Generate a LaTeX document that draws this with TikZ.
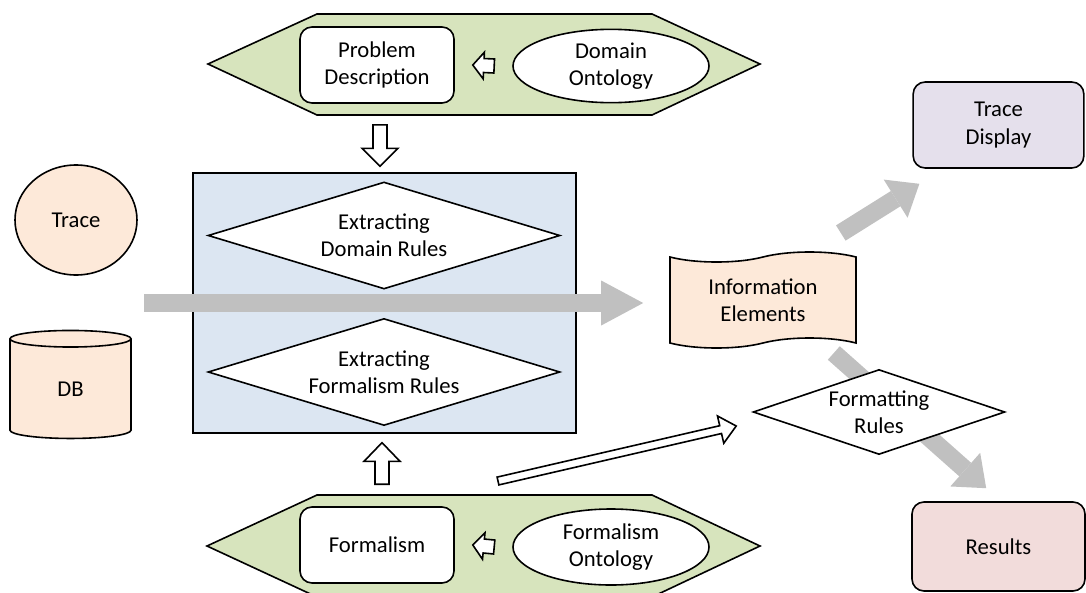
\documentclass[tikz,border=0pt]{standalone}
\usepackage{fontspec}
\setmainfont{Carlito}
\usetikzlibrary{shapes.geometric, shapes.symbols, arrows.meta, calc}

\definecolor{hexgreen}{HTML}{D7E4BD}
\definecolor{boxblue}{HTML}{DCE6F2}
\definecolor{peach}{HTML}{FDE9D9}
\definecolor{lilac}{HTML}{E5E0EC}
\definecolor{rose}{HTML}{F2DCDB}
\definecolor{flowgray}{HTML}{C0C0C0}

\tikzset{
  lbl/.style={font=\fontsize{17}{20.5}\selectfont, align=center, inner sep=0pt},
  outline/.style={draw=black, line width=1.2pt},
  roundbox/.style={lbl, outline, rounded corners=9pt, minimum width=128pt, minimum height=64.5pt},
  rulediamond/.style={lbl, outline, diamond, aspect=3.3, fill=white, minimum width=264pt, minimum height=80.25pt},
  flow/.style={draw=flowgray, line width=13.5pt, -{Triangle[length=31.5pt, width=33.75pt, line width=0pt]}},
  sideflow/.style={flow, -{Triangle[length=21pt, width=33.75pt, line width=0pt]}},
  hollow/.style n args={3}{outline, fill=white, line join=miter, to path={
      ($(\tikztostart)!#1!90:(\tikztotarget)$)
      -- ($(\tikztotarget)!#3!(\tikztostart)!#1!-90:(\tikztostart)$)
      -- ($(\tikztotarget)!#3!(\tikztostart)!#2!-90:(\tikztostart)$)
      -- (\tikztotarget)
      -- ($(\tikztotarget)!#3!(\tikztostart)!#2!90:(\tikztostart)$)
      -- ($(\tikztotarget)!#3!(\tikztostart)!#1!90:(\tikztostart)$)
      -- ($(\tikztostart)!#1!-90:(\tikztotarget)$) -- cycle}}
}

\begin{document}
\begin{tikzpicture}[x=0.75pt,y=0.75pt,yscale=-1,xscale=1]
\useasboundingbox (0,0) rectangle (1086,593);

% knowledge bands
\draw[outline, fill=hexgreen] (208,64) -- (317,14) -- (652,14) -- (760,64) -- (652,115) -- (317,115) -- cycle;
\draw[outline, fill=hexgreen] (207,546) -- (317,495) -- (652,495) -- (760,546) -- (652,597) -- (317,597) -- cycle;

\node[roundbox, fill=white, minimum width=115.5pt, minimum height=57pt] (problem) at (377,65) {Problem\\Description};
\node[lbl, outline, ellipse, fill=white, minimum width=147pt, minimum height=55pt] (domonto) at (611,66) {Domain\\Ontology};
\node[roundbox, fill=white, minimum width=115.5pt, minimum height=57pt] (formalism) at (377,545) {Formalism};
\node[lbl, outline, ellipse, fill=white, minimum width=147pt, minimum height=57pt] (formonto) at (611,547) {Formalism\\Ontology};

% inputs
\node[lbl, outline, ellipse, fill=peach, minimum width=91.5pt, minimum height=82.5pt] (trace) at (76,220) {Trace};
\node[lbl, outline, cylinder, shape border rotate=90, aspect=0.63, fill=peach, minimum width=90.75pt, minimum height=81pt] (db) at (70.5,389) {DB};

% extraction
\node[outline, line width=1pt, fill=boxblue, minimum width=287.25pt, minimum height=195pt] (extract) at (384.5,303) {};
\node[rulediamond] (domrules) at (384,235.5) {Extracting\\Domain Rules};
\node[rulediamond] (formrules) at (384,372) {Extracting\\Formalism Rules};

% outputs
\node[lbl, outline, tape, fill=peach, tape bend height=7.5pt, minimum width=139.5pt, minimum height=72pt] (info) at (763,300) {Information\\Elements};
\node[roundbox, fill=lilac] (display) at (998.5,125) {Trace\\Display};
\node[roundbox, fill=rose, minimum width=129.75pt, minimum height=66.75pt] (results) at (998.5,546.5) {Results};

\coordinate (feed) at (144,303);
\coordinate (fmlsrc) at (498,481);

\draw[flow] (feed) -- ($(info.west)+(-26,3)$);
\draw[sideflow] ($(info.east)+(-16,-67)$) -- ($(display.south west)+(7,15)$);
\draw[sideflow] ($(info.east)+(-23,53)$) -- ($(results.north west)+(75,-13)$);

\node[rulediamond, aspect=2.96, minimum width=189pt, minimum height=63.75pt] (fmtrules) at (879,412) {Formatting\\Rules};

\draw[hollow={5.25pt}{10pt}{8.25pt}] ($(domonto.west)+(-18,0)$) to ($(problem.east)+(18,0)$);
\draw[hollow={5.25pt}{10pt}{8.25pt}] ($(formonto.west)+(-18,0)$) to ($(formalism.east)+(18,0)$);
\draw[hollow={5.25pt}{13.5pt}{13.5pt}] ($(problem.south)+(3,21)$) to ($(extract.north)+(-4.5,-6)$);
\draw[hollow={5.25pt}{13.5pt}{14pt}] ($(formalism.north)+(5,-22)$) to ($(extract.south)+(-2.5,9)$);
\draw[hollow={3pt}{10.5pt}{12pt}] (fmlsrc) to ($(fmtrules.west)+(-16,14)$);

\end{tikzpicture}
\end{document}
